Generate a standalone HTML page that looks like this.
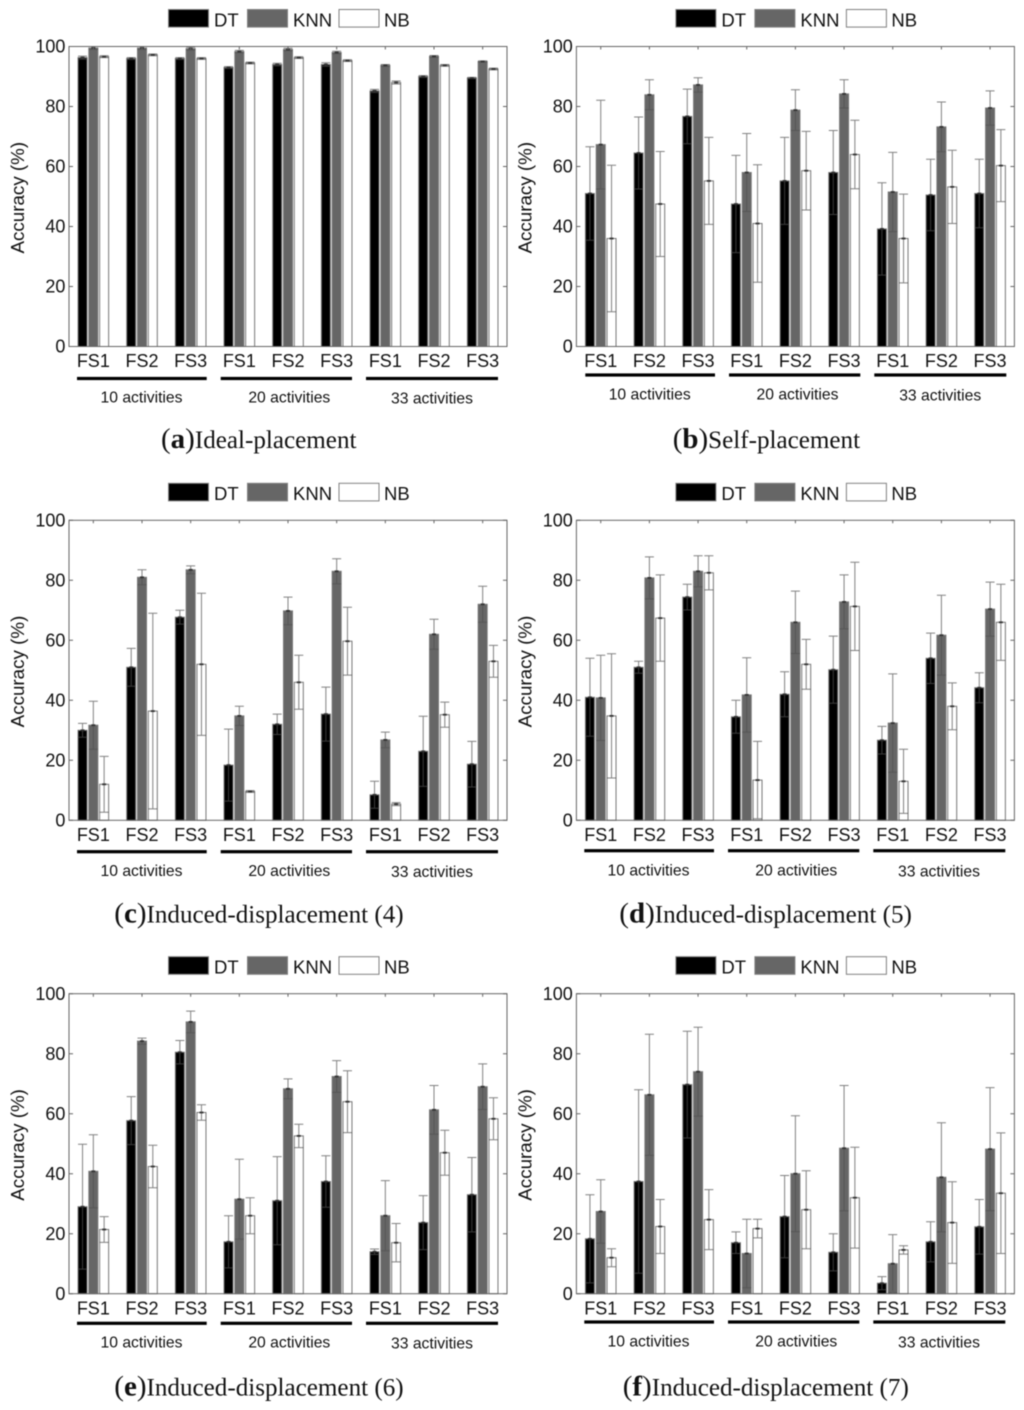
<!DOCTYPE html>
<html lang="en">
<head>
<meta charset="utf-8">
<title>Accuracy by feature set and activity count</title>
<style>
html,body{margin:0;padding:0;background:#fff;}
#figure{display:block;width:1024px;height:1410px;filter:blur(.45px);}
text{font-family:"Liberation Sans",sans-serif;fill:#111;}
.caption,.caption tspan{font-family:"Liberation Serif",serif;}
</style>
</head>
<body>
<svg id="figure" xmlns="http://www.w3.org/2000/svg" width="1024" height="1410" viewBox="0 0 1024 1410"></svg>
<script>
// ---- shared labels ----
const categories = ["FS1","FS2","FS3","FS1","FS2","FS3","FS1","FS2","FS3"];
const activityGroups = ["10 activities","20 activities","33 activities"];
const yTicks = [0,20,40,60,80,100];
const seriesNames = ["DT","KNN","NB"];
const yAxisTitle = "Accuracy (%)";

// ---- panel a ----
const aTitle = ["a","Ideal-placement"];
const aDT = [96.3,96,96,93,94,94,85.2,90,89.5];
const aDTerr = [.5,.3,.3,.3,.4,.6,.5,.3,.2];
const aKNN = [99.5,99.5,99.3,98.3,99,98,93.7,96.7,95];
const aKNNerr = [.5,.5,.5,.4,.4,.4,.3,.3,.2];
const aNB = [96.6,97.2,96,94.5,96.3,95.3,88,93.7,92.5];
const aNBerr = [.3,.3,.3,.3,.3,.3,.5,.3,.3];

// ---- panel b ----
const bTitle = ["b","Self-placement"];
const bDT = [51,64.5,76.7,47.5,55.2,58,39.2,50.5,51];
const bDTerr = [15.6,12,9.1,16.2,14.5,14,15.4,11.9,11.4];
const bKNN = [67.3,83.9,87.2,58,78.8,84.2,51.5,73.2,79.5];
const bKNNerr = [14.8,5,2.4,13,6.8,4.7,13.2,8.3,5.7];
const bNB = [36,47.5,55.2,41,58.6,64,36,53.2,60.3];
const bNBerr = [24.4,17.5,14.5,19.6,13.1,11.4,14.8,12.2,12];

// ---- panel c ----
const cTitle = ["c","Induced-displacement (4)"];
const cDT = [30,51,67.7,18.4,32,35.4,8.5,23,18.7];
const cDTerr = [2.3,6.3,2.3,12,3.4,9,4.5,11.7,7.6];
const cKNN = [31.7,81,83.5,34.8,69.8,83,26.8,62,72];
const cKNNerr = [8,2.5,1.3,3.2,4.6,4.2,2.6,5,6];
const cNB = [12,36.4,52,9.6,46,59.7,5.4,35.2,53];
const cNBerr = [9.3,32.6,23.7,.3,9,11.3,.5,4.2,5.3];

// ---- panel d ----
const dTitle = ["d","Induced-displacement (5)"];
const dDT = [41,51,74.4,34.5,42,50.2,26.7,54,44.2];
const dDTerr = [13,2,4.3,5.5,7.5,11.2,4.6,8.4,5];
const dKNN = [40.8,80.8,83,41.8,66,72.8,32.4,61.7,70.4];
const dKNNerr = [14.2,7,5.2,12.4,10.4,9,16.4,13.3,9];
const dNB = [34.8,67.4,82.5,13.4,52,71.3,13,38,66];
const dNBerr = [20.7,14.4,5.7,12.9,8.3,14.7,10.7,7.8,12.7];

// ---- panel e ----
const eTitle = ["e","Induced-displacement (6)"];
const eDT = [29,57.7,80.5,17.3,31,37.4,14,23.7,33];
const eDTerr = [20.8,8,3.9,8.7,14.7,8.6,.9,9,12.4];
const eKNN = [40.8,84.2,90.6,31.5,68.3,72.4,26,61.3,69];
const eKNNerr = [12.2,1,3.6,13.3,3.3,5.3,11.7,8.1,7.6];
const eNB = [21.4,42.4,60.4,26,52.6,64,17,47,58.3];
const eNBerr = [4.3,7.1,2.6,6,3.9,10.3,6.4,7.5,7];

// ---- panel f ----
const fTitle = ["f","Induced-displacement (7)"];
const fDT = [18.3,37.4,69.7,17,25.7,13.8,3.5,17.3,22.3];
const fDTerr = [14.7,30.6,17.8,3.6,13.7,6.2,2.2,6.7,9.1];
const fKNN = [27.4,66.3,74,13.4,40,48.5,10,38.8,48.2];
const fKNNerr = [10.6,20.2,14.8,11.4,19.3,20.9,9.7,18.2,20.5];
const fNB = [12,22.4,24.7,21.7,28,32,14.6,23.7,33.5];
const fNBerr = [3,9,10,3.1,13,16.8,1.4,13.6,20.1];

const panelSeries = [
  {id:"a",title:aTitle,values:[aDT,aKNN,aNB],errors:[aDTerr,aKNNerr,aNBerr]},
  {id:"b",title:bTitle,values:[bDT,bKNN,bNB],errors:[bDTerr,bKNNerr,bNBerr]},
  {id:"c",title:cTitle,values:[cDT,cKNN,cNB],errors:[cDTerr,cKNNerr,cNBerr]},
  {id:"d",title:dTitle,values:[dDT,dKNN,dNB],errors:[dDTerr,dKNNerr,dNBerr]},
  {id:"e",title:eTitle,values:[eDT,eKNN,eNB],errors:[eDTerr,eKNNerr,eNBerr]},
  {id:"f",title:fTitle,values:[fDT,fKNN,fNB],errors:[fDTerr,fKNNerr,fNBerr]}
];

// ---- layout (not data) ----
const layout = {
  a:{dx:0,dy:0,ruleDx:0,ruleY:378.5,labelDx:0,labelY:402.7,capX:161,capY:448},
  b:{dx:507.4,dy:0,ruleDx:.9,ruleY:375,labelDx:.8,labelY:399.3,capX:165.3,capY:448},
  c:{dx:0,dy:473.8,ruleDx:0,ruleY:377.9,labelDx:0,labelY:402.2,capX:114.3,capY:448.5},
  d:{dx:507.4,dy:473.8,ruleDx:-.1,ruleY:376.9,labelDx:-.4,labelY:401.5,capX:111.9,capY:448.5},
  e:{dx:0,dy:947.2,ruleDx:0,ruleY:376.1,labelDx:0,labelY:400.5,capX:114.3,capY:448.5},
  f:{dx:507.4,dy:947.2,ruleDx:-.1,ruleY:374.8,labelDx:-.4,labelY:399.5,capX:115.3,capY:448.5}
};
const plot = {left:69,top:46.5,width:438,height:300};
const rules = [[77,206.7],[220.7,352],[366,498]];
const groupCenters = [141.5,289.3,432];
const barFill = ["#000000","#666666","#ffffff"];
const barOffset = 10.8, barWidth = 9;
const legendX = [[168.5,214],[247.5,293],[339,384]];

const NS = "http://www.w3.org/2000/svg";
const root = document.getElementById("figure");
function shape(parent, tag, attrs, txt){
  const n = document.createElementNS(NS, tag);
  for (const k in attrs) n.setAttribute(k, attrs[k]);
  if (txt !== undefined) n.textContent = txt;
  parent.appendChild(n);
  return n;
}
function xScale(i){ return plot.left + (i + .5) * plot.width / categories.length; }
function yScale(v){ return plot.top + plot.height - Math.max(0, Math.min(100, v)) / 100 * plot.height; }

panelSeries.forEach(function(p){
  const L = layout[p.id];
  const g = shape(root, "g", {transform:"translate(" + L.dx + " " + L.dy + ")"});
  
  

  // legend
  seriesNames.forEach(function(name, s){
    const sw = shape(g, "rect", {x:legendX[s][0], y:9.5, width:40, height:17.6, fill:barFill[s], stroke:"#808080", "stroke-width":1});
    
    
    const lt = shape(g, "text", {x:legendX[s][1], y:26.4, "font-size":18.5}, name);
    
    
  });

  // bars
  p.values.forEach(function(vals, s){
    vals.forEach(function(v, i){
      const cx = xScale(i) + (s - 1) * barOffset;
      const bar = shape(g, "rect", {x:cx - barWidth/2, y:yScale(v), width:barWidth, height:yScale(0) - yScale(v), fill:barFill[s], stroke:"#777777", "stroke-width":1});
      
      
    });
  });

  // error bars
  p.values.forEach(function(vals, s){
    vals.forEach(function(v, i){
      const e = p.errors[s][i];
      const cx = xScale(i) + (s - 1) * barOffset;
      const hi = yScale(v + e), lo = yScale(v - e);
      const col = "rgba(80,80,80,.72)";
      const eb = shape(g, "path", {
        d:"M" + cx + " " + hi + "V" + lo +
          "M" + (cx - barWidth/2) + " " + hi + "H" + (cx + barWidth/2) +
          "M" + (cx - barWidth/2) + " " + lo + "H" + (cx + barWidth/2),
        fill:"none", stroke:col, "stroke-width":1});
      
      
      const m = shape(g, "path", {d:"M" + (cx - 2) + " " + yScale(v) + "H" + (cx + 2), stroke:"#333333", "stroke-width":1.8, fill:"none"});
      
      
    });
  });

  // axes box
  const box = shape(g, "rect", {x:plot.left, y:plot.top, width:plot.width, height:plot.height, fill:"none", stroke:"#666666", "stroke-width":1});
  
  

  // y ticks
  yTicks.forEach(function(t){
    const y = yScale(t);
    const tk = shape(g, "path", {d:"M" + plot.left + " " + y + "h4M" + (plot.left + plot.width) + " " + y + "h-4", stroke:"#666666", "stroke-width":1, fill:"none"});
    
    
    const tl = shape(g, "text", {x:plot.left - 3.6, y:y + 6.2, "font-size":18, "text-anchor":"end"}, String(t));
    
    
  });

  // x ticks
  categories.forEach(function(c, i){
    const x = xScale(i);
    const tk = shape(g, "path", {d:"M" + x + " " + plot.top + "v3M" + x + " " + (plot.top + plot.height) + "v-3", stroke:"#666666", "stroke-width":1, fill:"none"});
    
    
    const tl = shape(g, "text", {x:x, y:367.2, "font-size":18, "text-anchor":"middle"}, c);
    
    
  });

  // activity group rules and labels
  activityGroups.forEach(function(label, k){
    const r = shape(g, "rect", {x:rules[k][0] + L.ruleDx, y:L.ruleY - 1.6, width:rules[k][1] - rules[k][0], height:3.2, fill:"#000000"});
    
    
    const t = shape(g, "text", {x:groupCenters[k] + L.labelDx, y:L.labelY + (k === 2 ? 1 : 0), "font-size":15.7, "text-anchor":"middle"}, label);
    
    
  });

  // y axis title
  const yt = shape(g, "text", {transform:"translate(24 197.7) rotate(-90)", "font-size":18.8, "text-anchor":"middle"}, yAxisTitle);
  
  

  // caption
  const cap = shape(g, "text", {x:L.capX, y:L.capY, "class":"caption", "font-size":25.1});
  
  
  shape(cap, "tspan", {"font-size":29}, "(");
  shape(cap, "tspan", {"font-size":29, "font-weight":"bold"}, p.title[0]);
  shape(cap, "tspan", {"font-size":29}, ")");
  shape(cap, "tspan", {}, p.title[1]);
});
</script>
</body>
</html>
